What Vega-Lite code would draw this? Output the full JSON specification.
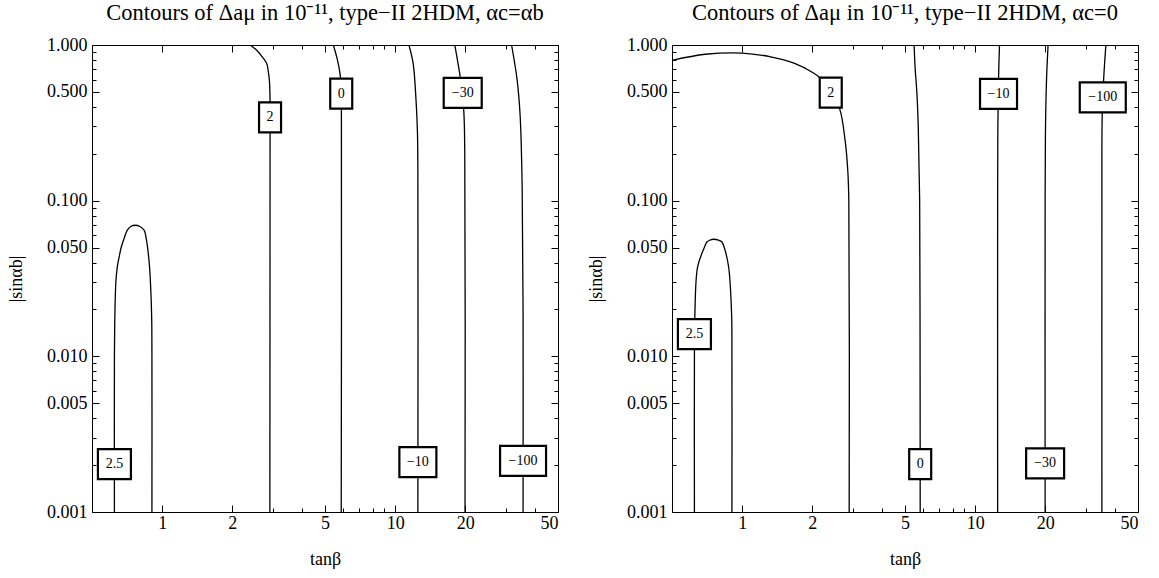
{
  "$schema": "https://vega.github.io/schema/vega-lite/v6.json",
  "background": "white",
  "padding": {"left": 7, "top": 1, "right": 5, "bottom": 5},
  "bounds": "flush",
  "spacing": 114,
  "datasets": {
    "lines": [
      {"panel": "L", "level": 2.5, "ord": 1, "tanb": 0.624, "sin": 0.001},
      {"panel": "L", "level": 2.5, "ord": 2, "tanb": 0.624, "sin": 0.01},
      {"panel": "L", "level": 2.5, "ord": 3, "tanb": 0.627, "sin": 0.0188},
      {"panel": "L", "level": 2.5, "ord": 4, "tanb": 0.633, "sin": 0.03},
      {"panel": "L", "level": 2.5, "ord": 5, "tanb": 0.642, "sin": 0.0375},
      {"panel": "L", "level": 2.5, "ord": 6, "tanb": 0.655, "sin": 0.044},
      {"panel": "L", "level": 2.5, "ord": 7, "tanb": 0.667, "sin": 0.05},
      {"panel": "L", "level": 2.5, "ord": 8, "tanb": 0.69, "sin": 0.0585},
      {"panel": "L", "level": 2.5, "ord": 9, "tanb": 0.708, "sin": 0.0645},
      {"panel": "L", "level": 2.5, "ord": 10, "tanb": 0.735, "sin": 0.0685},
      {"panel": "L", "level": 2.5, "ord": 11, "tanb": 0.767, "sin": 0.0695},
      {"panel": "L", "level": 2.5, "ord": 12, "tanb": 0.8, "sin": 0.0685},
      {"panel": "L", "level": 2.5, "ord": 13, "tanb": 0.838, "sin": 0.0645},
      {"panel": "L", "level": 2.5, "ord": 14, "tanb": 0.852, "sin": 0.0585},
      {"panel": "L", "level": 2.5, "ord": 15, "tanb": 0.866, "sin": 0.05},
      {"panel": "L", "level": 2.5, "ord": 16, "tanb": 0.883, "sin": 0.0375},
      {"panel": "L", "level": 2.5, "ord": 17, "tanb": 0.901, "sin": 0.0188},
      {"panel": "L", "level": 2.5, "ord": 18, "tanb": 0.904, "sin": 0.01},
      {"panel": "L", "level": 2.5, "ord": 19, "tanb": 0.904, "sin": 0.001},
      {"panel": "L", "level": 2, "ord": 1, "tanb": 2.385, "sin": 1},
      {"panel": "L", "level": 2, "ord": 2, "tanb": 2.546, "sin": 0.925},
      {"panel": "L", "level": 2, "ord": 3, "tanb": 2.693, "sin": 0.837},
      {"panel": "L", "level": 2, "ord": 4, "tanb": 2.811, "sin": 0.76},
      {"panel": "L", "level": 2, "ord": 5, "tanb": 2.85, "sin": 0.688},
      {"panel": "L", "level": 2, "ord": 6, "tanb": 2.886, "sin": 0.593},
      {"panel": "L", "level": 2, "ord": 7, "tanb": 2.905, "sin": 0.441},
      {"panel": "L", "level": 2, "ord": 8, "tanb": 2.905, "sin": 0.2},
      {"panel": "L", "level": 2, "ord": 9, "tanb": 2.9, "sin": 0.001},
      {"panel": "L", "level": 0, "ord": 1, "tanb": 5.43, "sin": 1},
      {"panel": "L", "level": 0, "ord": 2, "tanb": 5.66, "sin": 0.797},
      {"panel": "L", "level": 0, "ord": 3, "tanb": 5.8, "sin": 0.655},
      {"panel": "L", "level": 0, "ord": 4, "tanb": 5.86, "sin": 0.55},
      {"panel": "L", "level": 0, "ord": 5, "tanb": 5.88, "sin": 0.4},
      {"panel": "L", "level": 0, "ord": 6, "tanb": 5.87, "sin": 0.001},
      {"panel": "L", "level": -10, "ord": 1, "tanb": 11.46, "sin": 1},
      {"panel": "L", "level": -10, "ord": 2, "tanb": 11.95, "sin": 0.76},
      {"panel": "L", "level": -10, "ord": 3, "tanb": 12.27, "sin": 0.464},
      {"panel": "L", "level": -10, "ord": 4, "tanb": 12.46, "sin": 0.283},
      {"panel": "L", "level": -10, "ord": 5, "tanb": 12.52, "sin": 0.15},
      {"panel": "L", "level": -10, "ord": 6, "tanb": 12.52, "sin": 0.001},
      {"panel": "L", "level": -30, "ord": 1, "tanb": 18.03, "sin": 1},
      {"panel": "L", "level": -30, "ord": 2, "tanb": 18.62, "sin": 0.76},
      {"panel": "L", "level": -30, "ord": 3, "tanb": 19.05, "sin": 0.614},
      {"panel": "L", "level": -30, "ord": 4, "tanb": 19.7, "sin": 0.381},
      {"panel": "L", "level": -30, "ord": 5, "tanb": 19.9, "sin": 0.2},
      {"panel": "L", "level": -30, "ord": 6, "tanb": 19.95, "sin": 0.001},
      {"panel": "L", "level": -100, "ord": 1, "tanb": 31.6, "sin": 1},
      {"panel": "L", "level": -100, "ord": 2, "tanb": 33.4, "sin": 0.593},
      {"panel": "L", "level": -100, "ord": 3, "tanb": 34.4, "sin": 0.35},
      {"panel": "L", "level": -100, "ord": 4, "tanb": 35.1, "sin": 0.12},
      {"panel": "L", "level": -100, "ord": 5, "tanb": 35.4, "sin": 0.02},
      {"panel": "L", "level": -100, "ord": 6, "tanb": 35.4, "sin": 0.001},
      {"panel": "R", "level": 2.5, "ord": 1, "tanb": 0.624, "sin": 0.001},
      {"panel": "R", "level": 2.5, "ord": 2, "tanb": 0.624, "sin": 0.01},
      {"panel": "R", "level": 2.5, "ord": 3, "tanb": 0.627, "sin": 0.0188},
      {"panel": "R", "level": 2.5, "ord": 4, "tanb": 0.644, "sin": 0.0375},
      {"panel": "R", "level": 2.5, "ord": 5, "tanb": 0.688, "sin": 0.05},
      {"panel": "R", "level": 2.5, "ord": 6, "tanb": 0.706, "sin": 0.0543},
      {"panel": "R", "level": 2.5, "ord": 7, "tanb": 0.725, "sin": 0.0557},
      {"panel": "R", "level": 2.5, "ord": 8, "tanb": 0.755, "sin": 0.0565},
      {"panel": "R", "level": 2.5, "ord": 9, "tanb": 0.792, "sin": 0.0557},
      {"panel": "R", "level": 2.5, "ord": 10, "tanb": 0.819, "sin": 0.0543},
      {"panel": "R", "level": 2.5, "ord": 11, "tanb": 0.838, "sin": 0.05},
      {"panel": "R", "level": 2.5, "ord": 12, "tanb": 0.875, "sin": 0.0375},
      {"panel": "R", "level": 2.5, "ord": 13, "tanb": 0.901, "sin": 0.0188},
      {"panel": "R", "level": 2.5, "ord": 14, "tanb": 0.904, "sin": 0.01},
      {"panel": "R", "level": 2.5, "ord": 15, "tanb": 0.904, "sin": 0.001},
      {"panel": "R", "level": 2, "ord": 1, "tanb": 0.5, "sin": 0.797},
      {"panel": "R", "level": 2, "ord": 2, "tanb": 0.695, "sin": 0.872},
      {"panel": "R", "level": 2, "ord": 3, "tanb": 0.998, "sin": 0.888},
      {"panel": "R", "level": 2, "ord": 4, "tanb": 1.341, "sin": 0.837},
      {"panel": "R", "level": 2, "ord": 5, "tanb": 1.69, "sin": 0.76},
      {"panel": "R", "level": 2, "ord": 6, "tanb": 1.99, "sin": 0.671},
      {"panel": "R", "level": 2, "ord": 7, "tanb": 2.16, "sin": 0.614},
      {"panel": "R", "level": 2, "ord": 8, "tanb": 2.4, "sin": 0.495},
      {"panel": "R", "level": 2, "ord": 9, "tanb": 2.62, "sin": 0.39},
      {"panel": "R", "level": 2, "ord": 10, "tanb": 2.766, "sin": 0.244},
      {"panel": "R", "level": 2, "ord": 11, "tanb": 2.84, "sin": 0.157},
      {"panel": "R", "level": 2, "ord": 12, "tanb": 2.87, "sin": 0.1},
      {"panel": "R", "level": 2, "ord": 13, "tanb": 2.88, "sin": 0.001},
      {"panel": "R", "level": 0, "ord": 1, "tanb": 5.47, "sin": 1},
      {"panel": "R", "level": 0, "ord": 2, "tanb": 5.53, "sin": 0.7},
      {"panel": "R", "level": 0, "ord": 3, "tanb": 5.62, "sin": 0.5},
      {"panel": "R", "level": 0, "ord": 4, "tanb": 5.7, "sin": 0.3},
      {"panel": "R", "level": 0, "ord": 5, "tanb": 5.78, "sin": 0.1},
      {"panel": "R", "level": 0, "ord": 6, "tanb": 5.8, "sin": 0.02},
      {"panel": "R", "level": 0, "ord": 7, "tanb": 5.81, "sin": 0.001},
      {"panel": "R", "level": -10, "ord": 1, "tanb": 12.72, "sin": 1},
      {"panel": "R", "level": -10, "ord": 2, "tanb": 12.6, "sin": 0.6},
      {"panel": "R", "level": -10, "ord": 3, "tanb": 12.52, "sin": 0.3},
      {"panel": "R", "level": -10, "ord": 4, "tanb": 12.49, "sin": 0.1},
      {"panel": "R", "level": -10, "ord": 5, "tanb": 12.49, "sin": 0.001},
      {"panel": "R", "level": -30, "ord": 1, "tanb": 20.56, "sin": 1},
      {"panel": "R", "level": -30, "ord": 2, "tanb": 20.25, "sin": 0.6},
      {"panel": "R", "level": -30, "ord": 3, "tanb": 20.05, "sin": 0.3},
      {"panel": "R", "level": -30, "ord": 4, "tanb": 19.97, "sin": 0.1},
      {"panel": "R", "level": -30, "ord": 5, "tanb": 19.97, "sin": 0.001},
      {"panel": "R", "level": -100, "ord": 1, "tanb": 36.4, "sin": 1},
      {"panel": "R", "level": -100, "ord": 2, "tanb": 35.6, "sin": 0.6},
      {"panel": "R", "level": -100, "ord": 3, "tanb": 35.1, "sin": 0.35},
      {"panel": "R", "level": -100, "ord": 4, "tanb": 35.0, "sin": 0.1},
      {"panel": "R", "level": -100, "ord": 5, "tanb": 35.0, "sin": 0.001}
    ],
    "labels": [
      {"panel": "L", "label": "2.5", "tanb": 0.624, "sin": 0.00203},
      {"panel": "L", "label": "2", "tanb": 2.905, "sin": 0.343},
      {"panel": "L", "label": "0", "tanb": 5.87, "sin": 0.487},
      {"panel": "L", "label": "−30", "tanb": 19.5, "sin": 0.492},
      {"panel": "L", "label": "−10", "tanb": 12.52, "sin": 0.00209},
      {"panel": "L", "label": "−100", "tanb": 35.4, "sin": 0.00213},
      {"panel": "R", "label": "2", "tanb": 2.4, "sin": 0.495},
      {"panel": "R", "label": "−10", "tanb": 12.6, "sin": 0.486},
      {"panel": "R", "label": "−100", "tanb": 35.3, "sin": 0.461},
      {"panel": "R", "label": "2.5", "tanb": 0.624, "sin": 0.0139},
      {"panel": "R", "label": "0", "tanb": 5.81, "sin": 0.00203},
      {"panel": "R", "label": "−30", "tanb": 19.97, "sin": 0.00205}
    ]
  },
  "hconcat": [
    {
      "width": 466,
      "height": 467,
      "title": {"text": "Contours of Δaμ in 10⁻¹¹, type−II 2HDM, αc=αb", "frame": "group", "anchor": "middle", "baseline": "alphabetic", "offset": -6},
      "layer": [
        {
          "data": {"name": "lines"},
          "transform": [{"filter": "datum.panel === 'L' && datum.level !== 2.5"}],
          "mark": {"type": "line", "color": "black", "strokeWidth": 1.3, "interpolate": "catmull-rom", "clip": true},
          "encoding": {
            "x": {"field": "tanb", "type": "quantitative", "scale": {"type": "log", "domain": [0.5, 50], "nice": false},
                  "axis": {"orient": "bottom", "values": [1, 2, 5, 10, 20, 50], "format": "~g", "tickSize": -7, "labelPadding": 9, "title": "tanβ", "titlePadding": 18}},
            "y": {"field": "sin", "type": "quantitative", "scale": {"type": "log", "domain": [0.001, 1], "nice": false},
                  "axis": {"orient": "left", "values": [0.001, 0.005, 0.01, 0.05, 0.1, 0.5, 1], "format": ".3f", "tickSize": -7, "labelPadding": 12, "title": "|sinαb|", "titlePadding": 21}},
            "detail": {"field": "level", "type": "nominal"},
            "order": {"field": "ord", "type": "quantitative"}
          }
        },
        {
          "data": {"name": "lines"},
          "transform": [{"filter": "datum.panel === 'L' && datum.level === 2.5"}],
          "mark": {"type": "line", "color": "black", "strokeWidth": 1.3, "interpolate": "catmull-rom", "clip": true},
          "encoding": {
            "x": {"field": "tanb", "type": "quantitative", "scale": {"type": "log", "domain": [0.5, 50], "nice": false},
                  "axis": {"orient": "bottom", "values": [3, 4, 6, 7, 8, 9, 30, 40], "tickSize": -4, "labels": false, "title": null}},
            "y": {"field": "sin", "type": "quantitative", "scale": {"type": "log", "domain": [0.001, 1], "nice": false},
                  "axis": {"orient": "left", "values": [0.002, 0.003, 0.004, 0.006, 0.007, 0.008, 0.009, 0.02, 0.03, 0.04, 0.06, 0.07, 0.08, 0.09, 0.2, 0.3, 0.4, 0.6, 0.7, 0.8, 0.9], "tickSize": -4, "labels": false, "title": null}},
            "order": {"field": "ord", "type": "quantitative"}
          }
        },
        {
          "data": {"name": "labels"},
          "transform": [{"filter": "datum.panel === 'L'"}],
          "mark": {"type": "point", "filled": true, "fill": "white", "stroke": "black", "strokeWidth": 2.2, "opacity": 1, "size": 4},
          "encoding": {
            "x": {"field": "tanb", "type": "quantitative", "scale": {"type": "log", "domain": [0.5, 50], "nice": false},
                  "axis": {"orient": "top", "values": [1, 2, 5, 10, 20, 50], "tickSize": -7, "labels": false, "title": null}},
            "y": {"field": "sin", "type": "quantitative", "scale": {"type": "log", "domain": [0.001, 1], "nice": false},
                  "axis": {"orient": "right", "values": [0.001, 0.005, 0.01, 0.05, 0.1, 0.5, 1], "tickSize": -7, "labels": false, "title": null}},
            "shape": {"field": "label", "type": "nominal", "legend": null,
                      "scale": {"domain": ["2", "0", "2.5", "−10", "−30", "−100"],
                                "range": ["M-11,-15L11,-15L11,15L-11,15Z", "M-11,-15L11,-15L11,15L-11,15Z", "M-16.5,-15L16.5,-15L16.5,15L-16.5,15Z", "M-18.5,-15L18.5,-15L18.5,15L-18.5,15Z", "M-19,-15L19,-15L19,15L-19,15Z", "M-23,-15L23,-15L23,15L-23,15Z"]}}
          }
        },
        {
          "data": {"name": "labels"},
          "transform": [{"filter": "datum.panel === 'L'"}],
          "mark": {"type": "text", "font": "Liberation Serif", "fontSize": 14, "color": "black", "align": "center", "baseline": "middle"},
          "encoding": {
            "x": {"field": "tanb", "type": "quantitative", "scale": {"type": "log", "domain": [0.5, 50], "nice": false},
                  "axis": {"orient": "top", "values": [3, 4, 6, 7, 8, 9, 30, 40], "tickSize": -4, "labels": false, "title": null}},
            "y": {"field": "sin", "type": "quantitative", "scale": {"type": "log", "domain": [0.001, 1], "nice": false},
                  "axis": {"orient": "right", "values": [0.002, 0.003, 0.004, 0.006, 0.007, 0.008, 0.009, 0.02, 0.03, 0.04, 0.06, 0.07, 0.08, 0.09, 0.2, 0.3, 0.4, 0.6, 0.7, 0.8, 0.9], "tickSize": -4, "labels": false, "title": null}},
            "text": {"field": "label", "type": "nominal"}
          }
        }
      ],
      "resolve": {"axis": {"x": "independent", "y": "independent"}}
    },
    {
      "width": 466,
      "height": 467,
      "title": {"text": "Contours of Δaμ in 10⁻¹¹, type−II 2HDM, αc=0", "frame": "group", "anchor": "middle", "baseline": "alphabetic", "offset": -6},
      "layer": [
        {
          "data": {"name": "lines"},
          "transform": [{"filter": "datum.panel === 'R' && datum.level !== 2.5"}],
          "mark": {"type": "line", "color": "black", "strokeWidth": 1.3, "interpolate": "catmull-rom", "clip": true},
          "encoding": {
            "x": {"field": "tanb", "type": "quantitative", "scale": {"type": "log", "domain": [0.5, 50], "nice": false},
                  "axis": {"orient": "bottom", "values": [1, 2, 5, 10, 20, 50], "format": "~g", "tickSize": -7, "labelPadding": 9, "title": "tanβ", "titlePadding": 18}},
            "y": {"field": "sin", "type": "quantitative", "scale": {"type": "log", "domain": [0.001, 1], "nice": false},
                  "axis": {"orient": "left", "values": [0.001, 0.005, 0.01, 0.05, 0.1, 0.5, 1], "format": ".3f", "tickSize": -7, "labelPadding": 12, "title": "|sinαb|", "titlePadding": 21}},
            "detail": {"field": "level", "type": "nominal"},
            "order": {"field": "ord", "type": "quantitative"}
          }
        },
        {
          "data": {"name": "lines"},
          "transform": [{"filter": "datum.panel === 'R' && datum.level === 2.5"}],
          "mark": {"type": "line", "color": "black", "strokeWidth": 1.3, "interpolate": "catmull-rom", "clip": true},
          "encoding": {
            "x": {"field": "tanb", "type": "quantitative", "scale": {"type": "log", "domain": [0.5, 50], "nice": false},
                  "axis": {"orient": "bottom", "values": [3, 4, 6, 7, 8, 9, 30, 40], "tickSize": -4, "labels": false, "title": null}},
            "y": {"field": "sin", "type": "quantitative", "scale": {"type": "log", "domain": [0.001, 1], "nice": false},
                  "axis": {"orient": "left", "values": [0.002, 0.003, 0.004, 0.006, 0.007, 0.008, 0.009, 0.02, 0.03, 0.04, 0.06, 0.07, 0.08, 0.09, 0.2, 0.3, 0.4, 0.6, 0.7, 0.8, 0.9], "tickSize": -4, "labels": false, "title": null}},
            "order": {"field": "ord", "type": "quantitative"}
          }
        },
        {
          "data": {"name": "labels"},
          "transform": [{"filter": "datum.panel === 'R'"}],
          "mark": {"type": "point", "filled": true, "fill": "white", "stroke": "black", "strokeWidth": 2.2, "opacity": 1, "size": 4},
          "encoding": {
            "x": {"field": "tanb", "type": "quantitative", "scale": {"type": "log", "domain": [0.5, 50], "nice": false},
                  "axis": {"orient": "top", "values": [1, 2, 5, 10, 20, 50], "tickSize": -7, "labels": false, "title": null}},
            "y": {"field": "sin", "type": "quantitative", "scale": {"type": "log", "domain": [0.001, 1], "nice": false},
                  "axis": {"orient": "right", "values": [0.001, 0.005, 0.01, 0.05, 0.1, 0.5, 1], "tickSize": -7, "labels": false, "title": null}},
            "shape": {"field": "label", "type": "nominal", "legend": null,
                      "scale": {"domain": ["2", "0", "2.5", "−10", "−30", "−100"],
                                "range": ["M-11,-15L11,-15L11,15L-11,15Z", "M-11,-15L11,-15L11,15L-11,15Z", "M-16.5,-15L16.5,-15L16.5,15L-16.5,15Z", "M-18.5,-15L18.5,-15L18.5,15L-18.5,15Z", "M-19,-15L19,-15L19,15L-19,15Z", "M-23,-15L23,-15L23,15L-23,15Z"]}}
          }
        },
        {
          "data": {"name": "labels"},
          "transform": [{"filter": "datum.panel === 'R'"}],
          "mark": {"type": "text", "font": "Liberation Serif", "fontSize": 14, "color": "black", "align": "center", "baseline": "middle"},
          "encoding": {
            "x": {"field": "tanb", "type": "quantitative", "scale": {"type": "log", "domain": [0.5, 50], "nice": false},
                  "axis": {"orient": "top", "values": [3, 4, 6, 7, 8, 9, 30, 40], "tickSize": -4, "labels": false, "title": null}},
            "y": {"field": "sin", "type": "quantitative", "scale": {"type": "log", "domain": [0.001, 1], "nice": false},
                  "axis": {"orient": "right", "values": [0.002, 0.003, 0.004, 0.006, 0.007, 0.008, 0.009, 0.02, 0.03, 0.04, 0.06, 0.07, 0.08, 0.09, 0.2, 0.3, 0.4, 0.6, 0.7, 0.8, 0.9], "tickSize": -4, "labels": false, "title": null}},
            "text": {"field": "label", "type": "nominal"}
          }
        }
      ],
      "resolve": {"axis": {"x": "independent", "y": "independent"}}
    }
  ],
  "config": {
    "view": {"stroke": "black", "strokeWidth": 1},
    "axis": {"domain": false, "grid": false, "tickColor": "black", "tickWidth": 1,
             "labelFont": "Liberation Serif", "labelFontSize": 18, "labelColor": "black",
             "titleFont": "Liberation Serif", "titleFontSize": 18, "titleFontWeight": "normal", "titleColor": "black"},
    "title": {"font": "Liberation Serif", "fontSize": 22.5, "fontWeight": "normal", "color": "black"}
  }
}
